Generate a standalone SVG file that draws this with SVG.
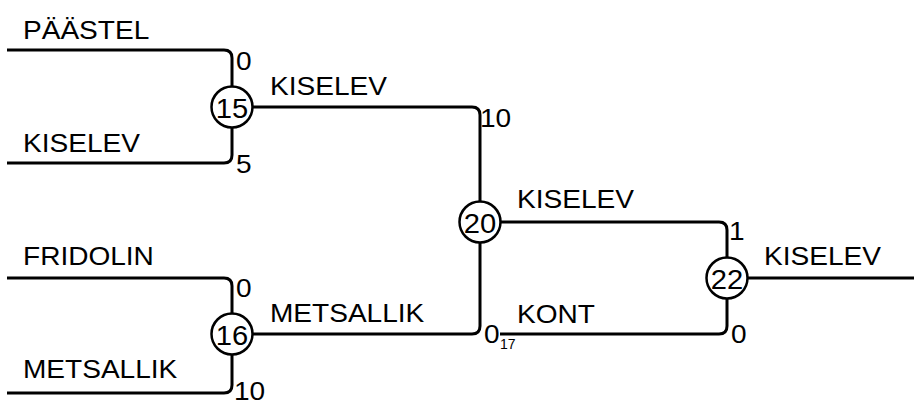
<svg xmlns="http://www.w3.org/2000/svg" width="914" height="406" viewBox="0 0 914 406">
<style>
.e{fill:none;stroke:#000;stroke-width:3;stroke-linejoin:round}
.n circle{fill:#fff;stroke:#000;stroke-width:2.5}
text{font-family:"Liberation Sans",Arial,sans-serif;font-size:25.5px;fill:#000}
.n text{text-anchor:middle}
.s{font-size:14px}
</style>
<rect width="914" height="406" fill="#fff"/>
<g id="connectors">
<path class="e" d="M7 50H224Q232 50 232 58V86"/>
<path class="e" d="M7 163H224Q232 163 232 155V128"/>
<path class="e" d="M253 107H472Q480 107 480 115V201"/>
<path class="e" d="M7 278H224Q232 278 232 286V313"/>
<path class="e" d="M7 393H224Q232 393 232 385V355"/>
<path class="e" d="M253 334H472Q480 334 480 326V243"/>
<path class="e" d="M501 222H719Q727 222 727 230V257"/>
<path class="e" d="M500 334H719Q727 334 727 326V299"/>
<path class="e" d="M748 278H914"/>
</g>
<g id="labels">
<text transform="translate(23,39) scale(1.1,1)">PÄÄSTEL</text>
<text transform="translate(23,152) scale(1.1,1)">KISELEV</text>
<text transform="translate(23,265) scale(1.1,1)">FRIDOLIN</text>
<text transform="translate(23,378) scale(1.1,1)">METSALLIK</text>
<text transform="translate(270,95) scale(1.1,1)">KISELEV</text>
<text transform="translate(270,322) scale(1.1,1)">METSALLIK</text>
<text transform="translate(517,208) scale(1.1,1)">KISELEV</text>
<text transform="translate(517,323) scale(1.1,1)">KONT</text>
<text transform="translate(764,265) scale(1.1,1)">KISELEV</text>
<text transform="translate(236,70) scale(1.1,1)">0</text>
<text transform="translate(236,173) scale(1.1,1)">5</text>
<text transform="translate(236,297) scale(1.1,1)">0</text>
<text transform="translate(234,400) scale(1.1,1)">10</text>
<text transform="translate(480,127) scale(1.1,1)">10</text>
<text transform="translate(484,343) scale(1.1,1)">0</text>
<text class="s" transform="translate(500,349)">17</text>
<text transform="translate(729,240) scale(1.1,1)">1</text>
<text transform="translate(731,343) scale(1.1,1)">0</text>
</g>
<g id="n15" class="n"><circle cx="232" cy="107" r="20.5"/><text transform="translate(232,117.5) scale(1.08,1)" style="font-size:27px">15</text></g>
<g id="n16" class="n"><circle cx="232" cy="334" r="20.5"/><text transform="translate(232,344.5) scale(1.08,1)" style="font-size:27px">16</text></g>
<g id="n20" class="n"><circle cx="480" cy="222" r="20.5"/><text transform="translate(480,232.5) scale(1.08,1)" style="font-size:27px">20</text></g>
<g id="n22" class="n"><circle cx="727" cy="278" r="20.5"/><text transform="translate(727,288.5) scale(1.08,1)" style="font-size:27px">22</text></g>
</svg>
